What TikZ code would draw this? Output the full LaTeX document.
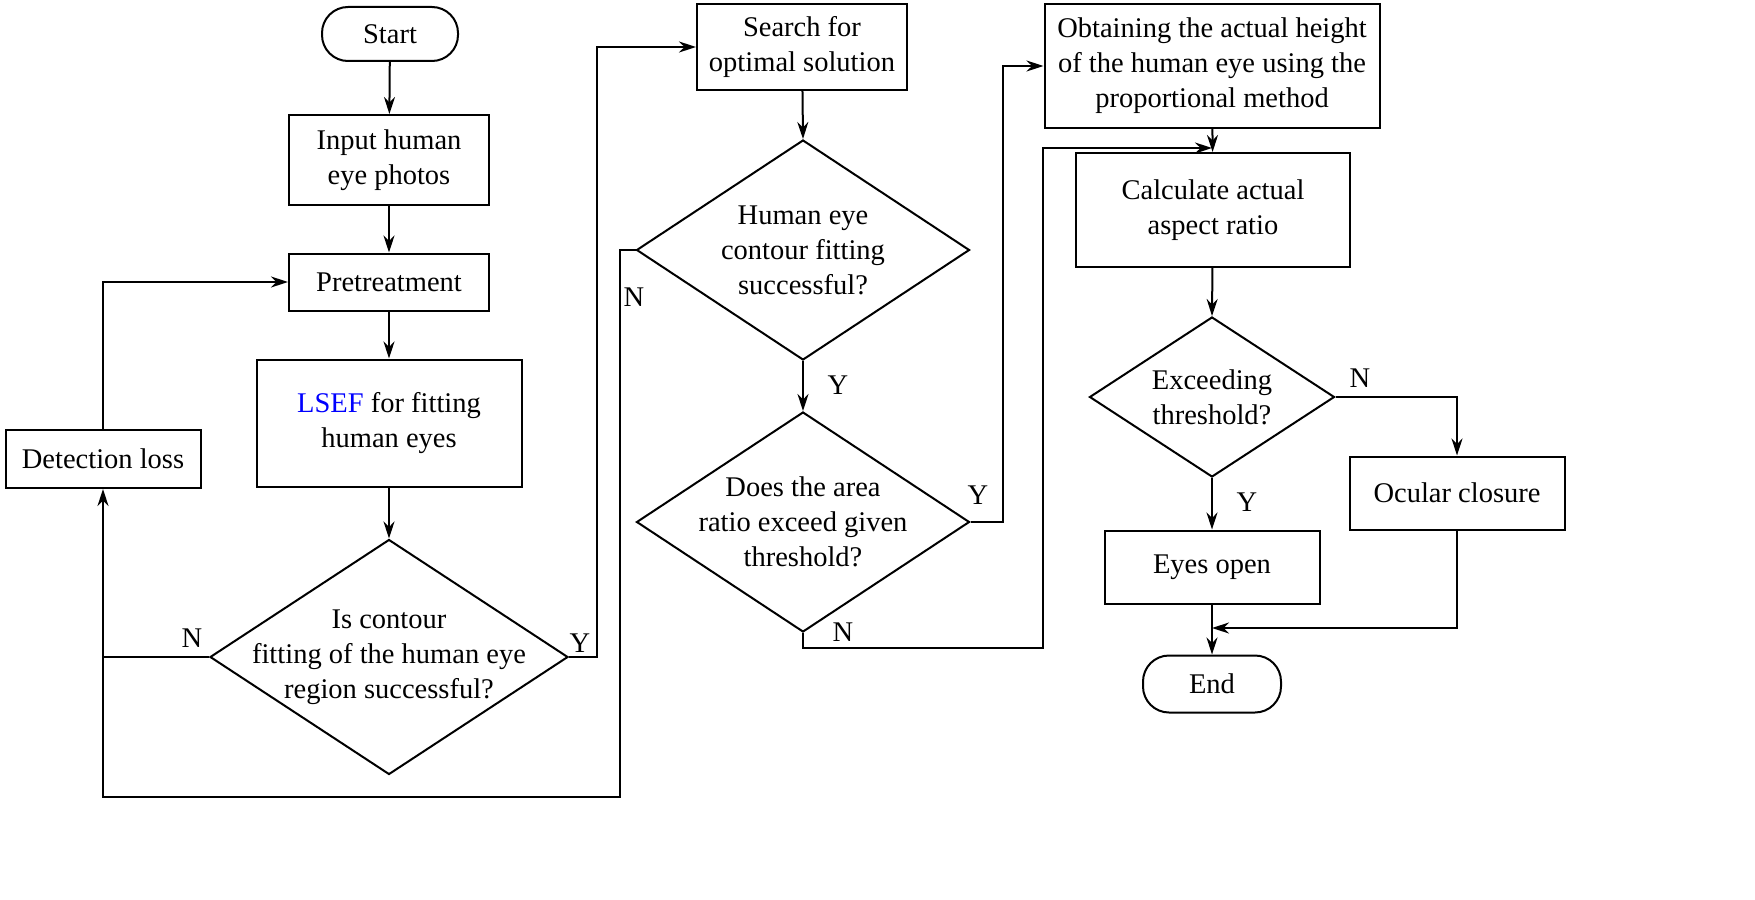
\documentclass[tikz,border=0pt]{standalone}
\usepackage{fontspec}
\setmainfont{Liberation Serif}
\usetikzlibrary{shapes.geometric,arrows.meta}
\begin{document}
\begin{tikzpicture}[x=1pt,y=-1pt,
  every node/.style={font=\fontsize{28.5}{35}\selectfont},
  box/.style={draw,line width=2pt,minimum width=#1,align=center,inner sep=0pt},
  term/.style={draw,line width=2pt,rounded corners=26pt,minimum width=136pt,minimum height=54pt},
  dia/.style={draw,line width=2pt,diamond,aspect=#1,align=center,inner sep=0pt},
  ln/.style={line width=2pt},
  ar/.style={line width=2pt,-{Stealth[length=17pt,width=11pt]}},
  lab/.style={font=\fontsize{28.5}{35}\selectfont}]
\useasboundingbox (0,0) rectangle (1755,899);
\begin{scope}[overlay]
\node[term] (start) at (390,34) {Start};
\node[box=200pt,minimum height=90pt] (input) at (389,160) {Input human\\eye photos};
\node[box=200pt,minimum height=57pt] (pre) at (389,282) {Pretreatment};
\node[box=265pt,minimum height=127pt] (lsef) at (389,423) {\textcolor{blue}{LSEF} for fitting\\human eyes};
\node[dia=1.52,minimum width=358pt,minimum height=235pt] (d1) at (389,657) {};
\node[align=center] at (389,657) {Is contour\\fitting of the human eye\\region successful?};
\node[box=195pt,minimum height=58pt] (det) at (103,459) {Detection loss};
\node[box=210pt,minimum height=85pt] (search) at (802,47) {Search for\\optimal solution};
\node[dia=1.51,minimum width=333pt,minimum height=220pt] (d2) at (803,250) {};
\node[align=center] at (803,250) {Human eye\\contour fitting\\successful?};
\node[dia=1.51,minimum width=333pt,minimum height=220pt] (d3) at (803,522) {};
\node[align=center] at (803,522) {Does the area\\ratio exceed given\\threshold?};
\node[box=335pt,minimum height=123pt] (obt) at (1212,66) {Obtaining the actual height\\of the human eye using the\\proportional method};
\node[box=274pt,minimum height=114pt] (calc) at (1213,210) {Calculate actual\\aspect ratio};
\node[dia=1.53,minimum width=245pt,minimum height=160pt] (d4) at (1212,397) {};
\node[align=center] at (1212,397) {Exceeding\\threshold?};
\node[box=215pt,minimum height=73pt] (open) at (1212,567) {Eyes open};
\node[box=215pt,minimum height=73pt] (clo) at (1457,493) {Ocular closure};
\node[term,minimum width=138pt,minimum height=57pt] (end) at (1212,684) {End};
\coordinate (j1) at (103,657);
\coordinate (j2) at (1212,148);
\coordinate (j3) at (1212,628);
\draw[ar] (start) -- (input);
\draw[ar] (input) -- (pre);
\draw[ar] (pre) -- (lsef);
\draw[ar] (lsef) -- (d1.north);
\draw[ln] (d1.west) -- (j1);
\draw[ar] (d2.west) -- (620,250) -- (620,797) -- (103,797) -- (det.south);
\draw[ar] (det.north) |- (pre.west);
\draw[ar] (d1.east) -- (597,657) |- (search.west);
\draw[ar] (search) -- (d2.north);
\draw[ar] (d2.south) -- (d3.north);
\draw[ar] (d3.east) -- (1003,522) |- (obt.west);
\draw[ar] (d3.south) -- (803,648) -- (1043,648) |- (j2);
\draw[ar] (obt) -- (calc);
\draw[ar] (calc) -- (d4.north);
\draw[ar] (d4.south) -- (open);
\draw[ar] (d4.east) -| (clo.north);
\draw[ar] (open) -- (end);
\draw[ar] (clo.south) |- (j3);
\node[lab] at (634,297) {N};
\node[lab] at (838,385) {Y};
\node[lab] at (192,638) {N};
\node[lab] at (580,643) {Y};
\node[lab] at (978,495) {Y};
\node[lab] at (843,632) {N};
\node[lab] at (1360,378) {N};
\node[lab] at (1247,502) {Y};
\end{scope}
\end{tikzpicture}
\end{document}
